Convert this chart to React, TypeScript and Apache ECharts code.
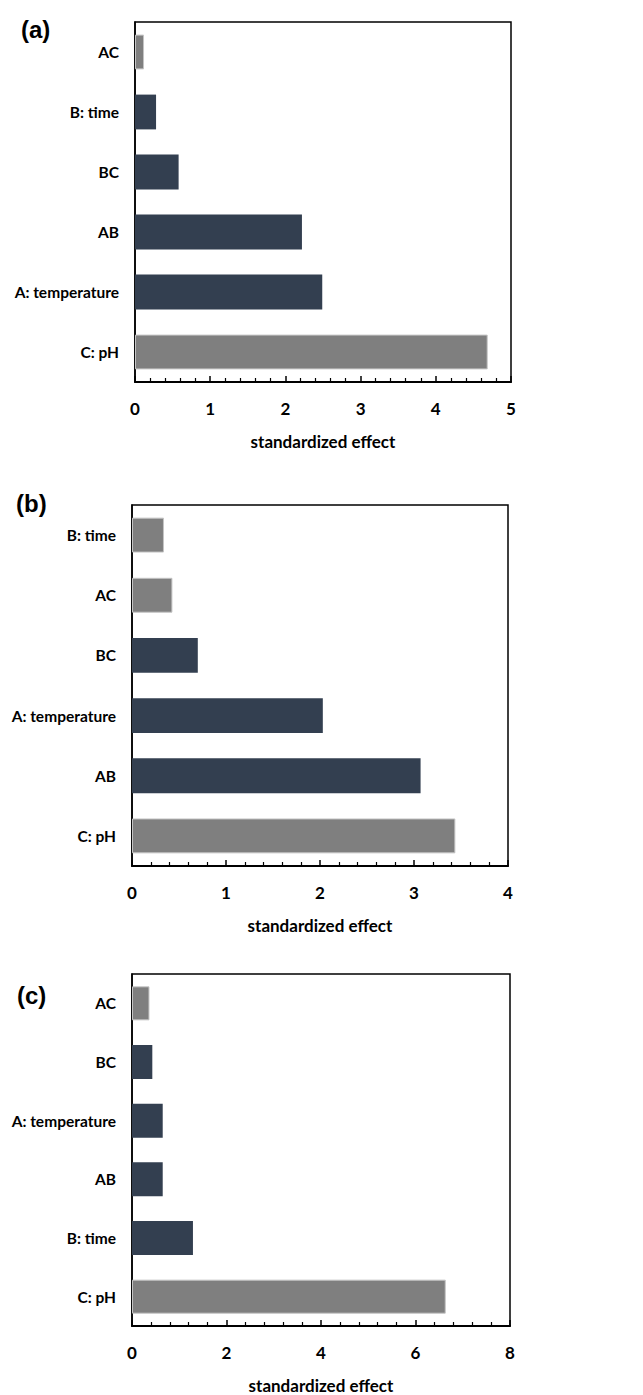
import React, { useEffect, useRef } from "react";
import * as echarts from "echarts";

// Panel (a)
const catsA = ["AC", "B: time", "BC", "AB", "A: temperature", "C: pH"];
const valsA = [0.12, 0.28, 0.58, 2.22, 2.49, 4.69];
const groupA = ["g", "d", "d", "d", "d", "g"];
const ticksA = { max: 5, interval: 1 };

// Panel (b)
const catsB = ["B: time", "AC", "BC", "A: temperature", "AB", "C: pH"];
const valsB = [0.34, 0.43, 0.7, 2.03, 3.07, 3.44];
const groupB = ["g", "g", "d", "d", "d", "g"];
const ticksB = { max: 4, interval: 1 };

// Panel (c)
const catsC = ["AC", "BC", "A: temperature", "AB", "B: time", "C: pH"];
const valsC = [0.37, 0.43, 0.65, 0.65, 1.29, 6.64];
const groupC = ["g", "d", "d", "d", "d", "g"];
const ticksC = { max: 8, interval: 2 };

const panelLetters = ["(a)", "(b)", "(c)"];
const axisTitle = "standardized effect";

const GRAY = "#7f7f7f";
const GRAY_EDGE = "#c4c4c4";
const DARK = "#333f50";
const LABEL_FONT = "Lato, 'Open Sans', sans-serif";

const grids = [
  { left: 135, top: 22, width: 376, height: 360 },
  { left: 132, top: 505, width: 376, height: 361 },
  { left: 132, top: 974, width: 378, height: 353 },
];
const letterPos = [
  { x: 21, y: 29 },
  { x: 16, y: 503 },
  { x: 17, y: 995 },
];

export default function App() {
  const ref = useRef<HTMLDivElement>(null);

  useEffect(() => {
    if (!ref.current) return;
    const chart = echarts.init(ref.current, null, { renderer: "svg" });

    const panels = [
      { cats: catsA, vals: valsA, groups: groupA, ticks: ticksA },
      { cats: catsB, vals: valsB, groups: groupB, ticks: ticksB },
      { cats: catsC, vals: valsC, groups: groupC, ticks: ticksC },
    ];

    const option: any = {
      animation: false,
      backgroundColor: "#fff",
      grid: grids.map((g) => ({
        ...g,
        show: true,
        borderColor: "#000",
        borderWidth: 1.5,
        backgroundColor: "transparent",
        containLabel: false,
      })),
      xAxis: panels.map((p, i) => ({
        type: "value",
        gridIndex: i,
        min: 0,
        max: p.ticks.max,
        interval: p.ticks.interval,
        axisLine: { show: true, lineStyle: { color: "#000", width: 2 } },
        axisTick: { show: true, inside: true, length: 6, lineStyle: { color: "#000", width: 1.5 } },
        minorTick: { show: true, splitNumber: 5, length: 4, lineStyle: { color: "#000", width: 1.2 } },
        splitLine: { show: false },
        axisLabel: {
          margin: 18,
          color: "#000",
          fontWeight: "bold",
          fontSize: 17,
          fontFamily: LABEL_FONT,
        },
        name: axisTitle,
        nameLocation: "middle",
        nameGap: 51,
        nameTextStyle: {
          color: "#000",
          fontWeight: "bold",
          fontSize: 17,
          fontFamily: LABEL_FONT,
        },
      })),
      yAxis: panels.map((p, i) => ({
        type: "category",
        gridIndex: i,
        inverse: true,
        data: p.cats,
        axisLine: { show: true, lineStyle: { color: "#000", width: 1.5 } },
        axisTick: { show: false },
        axisLabel: {
          margin: 16,
          color: "#000",
          fontWeight: "bold",
          fontSize: 15.5,
          fontFamily: LABEL_FONT,
        },
      })),
      series: panels.map((p, i) => ({
        type: "bar",
        xAxisIndex: i,
        yAxisIndex: i,
        barWidth: "58%",
        data: p.vals.map((v, k) => ({
          value: v,
          itemStyle:
            p.groups[k] === "g"
              ? { color: GRAY, borderColor: GRAY_EDGE, borderWidth: 1 }
              : { color: DARK },
        })),
      })),
      graphic: panelLetters.map((t, i) => ({
        type: "text",
        x: letterPos[i].x,
        y: letterPos[i].y,
        style: {
          text: t,
          fill: "#000",
          fontSize: 24,
          fontWeight: "bold",
          fontFamily: "'Liberation Sans', Arial, sans-serif",
          textVerticalAlign: "middle",
        },
      })),
    };

    chart.setOption(option);
    return () => chart.dispose();
  }, []);

  return (
    <div
      ref={ref}
      style={{ position: "absolute", left: 0, top: 0, width: 643, height: 1395 }}
    />
  );
}
